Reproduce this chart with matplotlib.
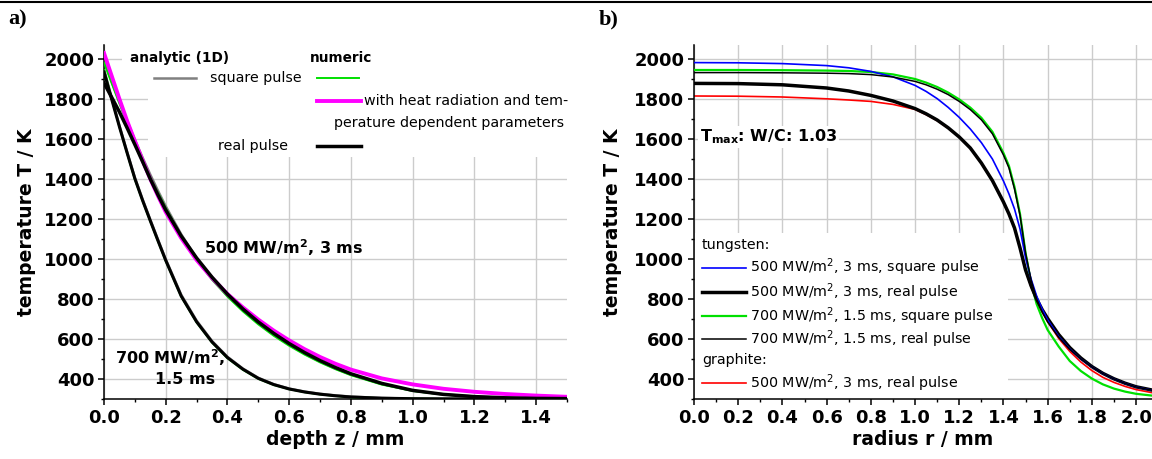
import matplotlib
matplotlib.use('Agg')
import matplotlib.pyplot as plt
from matplotlib.ticker import MultipleLocator
from matplotlib.patches import Rectangle
from matplotlib.lines import Line2D

plt.rcParams['font.family'] = ['DejaVu Sans']
plt.rcParams['mathtext.fontset'] = 'dejavusans'

# ---------------- panel a data: depth profiles ----------------
depth_mm = [0, 0.025, 0.05, 0.075, 0.1, 0.125, 0.15, 0.175, 0.2, 0.25, 0.3, 0.35,
            0.4, 0.45, 0.5, 0.55, 0.6, 0.65, 0.7, 0.75, 0.8, 0.9, 1.0, 1.1, 1.2,
            1.3, 1.4, 1.5]
# 700 MW/m2, 1.5 ms
gray_700 = [1950, 1806, 1667, 1535, 1407, 1299, 1197, 1097, 999, 822, 692, 590,
            511, 452, 406, 374, 352, 337, 326, 318, 312, 305, 302, 301, 300.5,
            300.2, 300.1, 300]
green_700 = [1945, 1800, 1660, 1527, 1398, 1290, 1188, 1088, 990, 812, 683, 582,
             504, 446, 401, 370, 349, 334, 323, 315, 309, 304, 301.5, 300.5,
             300.2, 300.1, 300, 300]
black_700 = [1935, 1798, 1661, 1530, 1402, 1293, 1191, 1091, 993, 815, 686, 585,
             507, 449, 403, 372, 350, 335, 324, 316, 310, 304, 301.5, 300.7,
             300.3, 300.1, 300, 300]
# 500 MW/m2, 3 ms
gray_500 = [1992, 1887, 1786, 1689, 1596, 1507, 1422, 1341, 1264, 1124, 1004, 904,
            819, 745, 679, 621, 571, 526, 487, 452, 422, 375, 342, 323, 312, 306,
            303, 301.5]
green_500 = [1982, 1878, 1777, 1680, 1587, 1498, 1413, 1332, 1255, 1115, 995, 896,
             812, 738, 673, 616, 566, 522, 483, 449, 419, 372, 340, 322, 311, 305,
             302.5, 301]
magenta_500 = [2030, 1915, 1800, 1690, 1590, 1493, 1400, 1315, 1235, 1105, 995,
               905, 825, 758, 697, 642, 593, 549, 510, 476, 447, 403, 373, 351,
               336, 325, 317, 311]
black_500 = [1880, 1808, 1735, 1655, 1572, 1487, 1400, 1320, 1245, 1115, 1005, 909,
             824, 750, 685, 628, 577, 532, 492, 457, 426, 378, 343, 323, 312, 306,
             303, 302]

# ---------------- panel b data: radial profiles ----------------
radius_mm = [0, 0.2, 0.4, 0.6, 0.7, 0.8, 0.9, 1.0, 1.05, 1.1, 1.15, 1.2, 1.25,
             1.3, 1.35, 1.4, 1.425, 1.45, 1.475, 1.5, 1.525, 1.55, 1.575, 1.6,
             1.65, 1.7, 1.75, 1.8, 1.85, 1.9, 1.95, 2.0, 2.08]
w500_square = [1982, 1981, 1977, 1967, 1956, 1938, 1911, 1868, 1838, 1802, 1758,
               1708, 1650, 1582, 1500, 1390, 1325, 1250, 1150, 1005, 900, 815,
               750, 695, 612, 550, 500, 460, 427, 400, 378, 360, 342]
w500_real = [1878, 1877, 1871, 1855, 1840, 1818, 1790, 1752, 1726, 1695, 1656,
             1610, 1555, 1480, 1392, 1285, 1225, 1155, 1055, 945, 866, 800, 747,
             702, 622, 557, 505, 462, 428, 401, 379, 361, 343]
w700_square = [1945, 1945, 1944, 1942, 1940, 1935, 1923, 1900, 1882, 1860, 1832,
               1798, 1757, 1706, 1636, 1530, 1465, 1360, 1225, 1030, 880, 775,
               705, 645, 562, 490, 440, 402, 373, 352, 337, 326, 316]
w700_real = [1932, 1932, 1931, 1929, 1927, 1922, 1910, 1888, 1871, 1849, 1822,
             1788, 1747, 1696, 1626, 1520, 1455, 1350, 1218, 1030, 895, 800, 735,
             685, 608, 548, 500, 460, 427, 400, 378, 360, 342]
c500_real = [1815, 1814, 1810, 1801, 1795, 1788, 1773, 1748, 1722, 1692, 1654,
             1609, 1553, 1478, 1390, 1283, 1223, 1153, 1053, 943, 860, 792, 735,
             687, 603, 538, 485, 442, 408, 383, 363, 347, 330]

y_ticks = [400, 600, 800, 1000, 1200, 1400, 1600, 1800, 2000]
xa_ticks = [0.0, 0.2, 0.4, 0.6, 0.8, 1.0, 1.2, 1.4]
xb_ticks = [0.0, 0.2, 0.4, 0.6, 0.8, 1.0, 1.2, 1.4, 1.6, 1.8, 2.0]

GREEN = '#00e000'
GRAY = '#808080'
MAGENTA = '#ff00ff'
BLUE = '#0000ff'
RED = '#ff0000'
GRID = '#cccccc'

W, H = 1152, 459
fig = plt.figure(figsize=(W / 100, H / 100), dpi=100)
axa = fig.add_axes([104 / W, 60 / H, 463 / W, 354 / H])
axb = fig.add_axes([694 / W, 60 / H, 458 / W, 354 / H])


def style(ax, xticks, xlim):
    ax.set_ylim(300, 2070)
    ax.set_xlim(*xlim)
    ax.set_yticks(y_ticks)
    ax.set_xticks(xticks)
    ax.yaxis.set_minor_locator(MultipleLocator(100))
    ax.xaxis.set_minor_locator(MultipleLocator(0.1))
    ax.set_xticklabels(['%.1f' % t for t in xticks])
    for s in ['top', 'right']:
        ax.spines[s].set_visible(False)
    for s in ['left', 'bottom']:
        ax.spines[s].set_linewidth(1.1)
    ax.tick_params(which='major', direction='out', length=4, width=1.1,
                   labelsize=13, pad=3)
    ax.tick_params(which='minor', direction='out', length=2.4, width=1.0)
    for lab in ax.get_xticklabels() + ax.get_yticklabels():
        lab.set_fontweight('bold')
    ax.grid(True, which='major', color=GRID, lw=1.0, zorder=0)
    ax.set_axisbelow(True)
    ax.set_ylabel('temperature T / K', fontsize=13.5, fontweight='bold')


style(axa, xa_ticks, (0, 1.5))
style(axb, xb_ticks, (0, 2.072))

# ---------- panel a ----------
axa.set_xlabel('depth z / mm', fontsize=13.5, fontweight='bold')
axa.xaxis.set_label_coords(0.5, -0.115)
axa.xaxis.label.set_va('center')
axa.yaxis.set_label_coords(-0.168, 0.5)
axa.yaxis.label.set_va('center')

# white masks behind legend
axa.add_patch(Rectangle((0.039, 0.915), 0.961, 0.085, transform=axa.transAxes,
                        facecolor='white', edgecolor='none', zorder=1))
axa.add_patch(Rectangle((0.095, 0.684), 0.905, 0.316, transform=axa.transAxes,
                        facecolor='white', edgecolor='none', zorder=1))

axa.plot(depth_mm, gray_700, color=GRAY, lw=1.8, zorder=2)
axa.plot(depth_mm, gray_500, color=GRAY, lw=1.8, zorder=2)
axa.plot(depth_mm, green_700, color=GREEN, lw=1.4, zorder=3)
axa.plot(depth_mm, green_500, color=GREEN, lw=1.4, zorder=3)
axa.plot(depth_mm, magenta_500, color=MAGENTA, lw=2.8, zorder=4)
axa.plot(depth_mm, black_700, color='black', lw=2.2, zorder=5)
axa.plot(depth_mm, black_500, color='black', lw=2.5, zorder=5)

T = axa.transAxes
axa.text(0.162, 0.963, 'analytic (1D)', transform=T, ha='center', va='center',
         fontsize=9.8, fontweight='bold', zorder=6)
axa.text(0.513, 0.963, 'numeric', transform=T, ha='center', va='center',
         fontsize=9.8, fontweight='bold', zorder=6)
axa.plot([0.108, 0.199], [0.907, 0.907], transform=T, color=GRAY, lw=1.8, zorder=6)
axa.text(0.229, 0.907, 'square pulse', transform=T, ha='left', va='center',
         fontsize=10.3, zorder=6)
axa.plot([0.460, 0.551], [0.907, 0.907], transform=T, color=GREEN, lw=1.4, zorder=6)
axa.plot([0.460, 0.555], [0.842, 0.842], transform=T, color=MAGENTA, lw=2.8, zorder=6)
axa.text(0.562, 0.842, 'with heat radiation and tem-', transform=T, ha='left',
         va='center', fontsize=10.3, zorder=6)
axa.text(0.994, 0.780, 'perature dependent parameters', transform=T, ha='right',
         va='center', fontsize=10.3, zorder=6)
axa.text(0.397, 0.715, 'real pulse', transform=T, ha='right', va='center',
         fontsize=10.3, zorder=6)
axa.plot([0.460, 0.555], [0.715, 0.715], transform=T, color='black', lw=2.5, zorder=6)

axa.text(0.389, 0.427, '500 MW/m$^\\mathbf{2}$, 3 ms', transform=T, ha='center',
         va='center', fontsize=11.5, fontweight='bold', zorder=6)
axa.text(0.1415, 0.118, '700 MW/m$^\\mathbf{2}$,', transform=T, ha='center',
         va='center', fontsize=11.5, fontweight='bold', zorder=6)
axa.text(0.175, 0.054, '1.5 ms', transform=T, ha='center', va='center',
         fontsize=11.5, fontweight='bold', zorder=6)

# ---------- panel b ----------
axb.set_xlabel('radius r / mm', fontsize=13.5, fontweight='bold')
axb.xaxis.set_label_coords(0.5, -0.115)
axb.xaxis.label.set_va('center')
axb.yaxis.set_label_coords(-0.179, 0.5)
axb.yaxis.label.set_va('center')

axb.add_patch(Rectangle((0.003, 0.0), 0.683, 0.469, transform=axb.transAxes,
                        facecolor='white', edgecolor='none', zorder=1))

axb.plot(radius_mm, c500_real, color=RED, lw=1.2, zorder=2)
axb.plot(radius_mm, w700_square, color=GREEN, lw=1.6, zorder=3)
axb.plot(radius_mm, w500_square, color=BLUE, lw=1.2, zorder=4)
axb.plot(radius_mm, w500_real, color='black', lw=2.5, zorder=3)
axb.plot(radius_mm, w700_real, color='black', lw=1.1, zorder=4)

Tb = axb.transAxes
axb.text(0.013, 0.74, 'T$_{\\mathbf{max}}$: W/C: 1.03', transform=Tb, ha='left',
         va='center', fontsize=11.5, fontweight='bold', zorder=6,
         bbox=dict(facecolor='white', edgecolor='none', pad=1.5))

x0, x1, xt = 0.0175, 0.1135, 0.122
axb.text(x0, 0.435, 'tungsten:', transform=Tb, ha='left', va='center',
         fontsize=10.3, zorder=6)
rows = [(0.371, BLUE, 1.2, '500 MW/m$^2$, 3 ms, square pulse'),
        (0.303, 'black', 2.5, '500 MW/m$^2$, 3 ms, real pulse'),
        (0.235, GREEN, 1.6, '700 MW/m$^2$, 1.5 ms, square pulse'),
        (0.169, 'black', 1.1, '700 MW/m$^2$, 1.5 ms, real pulse'),
        (0.044, RED, 1.2, '500 MW/m$^2$, 3 ms, real pulse')]
for y, c, lw, lab in rows:
    axb.plot([x0, x1], [y, y], transform=Tb, color=c, lw=lw, zorder=6)
    axb.text(xt, y, lab, transform=Tb, ha='left', va='center', fontsize=10.3,
             zorder=6)
axb.text(x0, 0.110, 'graphite:', transform=Tb, ha='left', va='center',
         fontsize=10.3, zorder=6)

# panel labels and top rule
fig.text(8 / W, 1 - 19 / H, 'a)', family='Liberation Serif', fontweight='bold',
         fontsize=16, ha='left', va='center')
fig.text(599 / W, 1 - 19 / H, 'b)', family='Liberation Serif', fontweight='bold',
         fontsize=16, ha='left', va='center')
fig.add_artist(Line2D([0, 1], [1 - 1.5 / H, 1 - 1.5 / H], color='black', lw=1.5,
                      transform=fig.transFigure))

fig.savefig('out.png', dpi=100)
